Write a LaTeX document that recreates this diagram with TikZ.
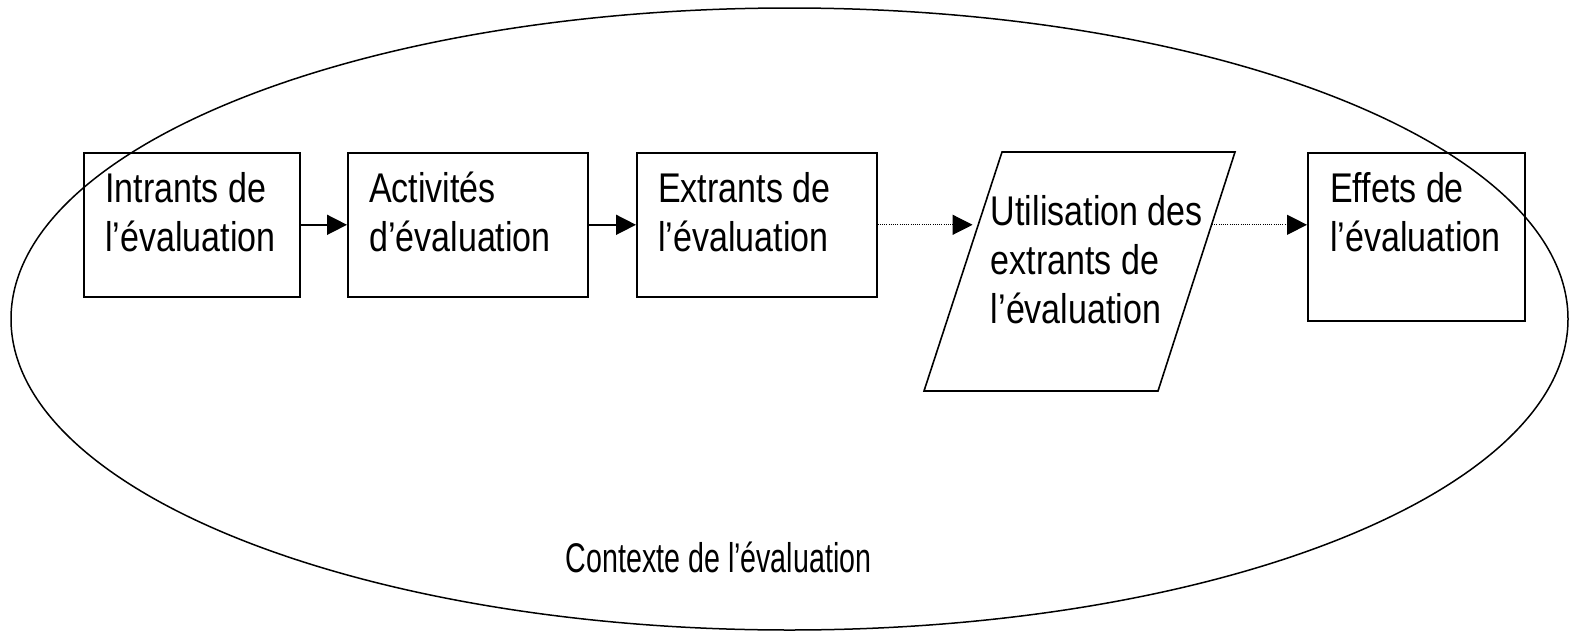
\documentclass[tikz,border=0pt]{standalone}
\usepackage{fontspec}
\setmainfont{Liberation Sans}[FakeStretch=0.82]
\newfontfamily\ctxfont{Liberation Sans}[FakeStretch=0.69]
\usetikzlibrary{arrows.meta,calc}
\begin{document}
\begin{tikzpicture}[x=1pt,y=-1pt,
  box/.style={draw,line width=1.6pt,inner sep=0pt,anchor=north west},
  lbl/.style={inner sep=0pt,anchor=base west,align=left,font=\fontsize{41.5}{49.4}\selectfont},
  tipped/.style={-{Triangle[length=20pt,width=20pt]}},
  solidarrow/.style={tipped,line width=1.6pt},
  dotarrow/.style={tipped,line width=1.2pt,dash pattern=on 1pt off 1.2pt}]
\useasboundingbox (0,0) rectangle (1569,632);
% context ellipse
\draw[line width=1.5pt] (789.5,319) ellipse [x radius=778.5pt, y radius=311pt];
% boxes
\node[box,minimum width=216pt,minimum height=144pt] (b1) at (83,152) {};
\node[box,minimum width=240pt,minimum height=144pt] (b2) at (347,152) {};
\node[box,minimum width=240pt,minimum height=144pt] (b3) at (636,152) {};
\node[box,minimum width=217pt,minimum height=168pt] (b5) at (1307,152) {};
% parallelogram
\coordinate (p1) at (1002,152);
\coordinate (p2) at (1235,152);
\coordinate (p3) at (1158,391);
\coordinate (p4) at (924,391);
\draw[line width=1.6pt,line join=miter] (p1) -- (p2) -- (p3) -- (p4) -- cycle;
\coordinate (pin) at ($(p1)!0.3!(p4)$);
\coordinate (pout) at ($(p2)!0.3!(p3)$);
% labels (anchor = baseline of the last line)
\node[lbl] (t1) at ($(b1.north west)+(22,99.4)$) {Intrants de\\l’évaluation};
\node[lbl] (t2) at ($(b2.north west)+(22,99.4)$) {Activités\\d’évaluation};
\node[lbl] (t3) at ($(b3.north west)+(22,99.4)$) {Extrants de\\l’évaluation};
\node[lbl] (t4) at (990.7,323.8) {Utilisation des\\extrants de\\l’évaluation};
\node[lbl] (t5) at ($(b5.north west)+(23,99.4)$) {Effets de\\l’évaluation};
\node[lbl,anchor=base,font=\ctxfont\fontsize{41.5}{49.4}\selectfont] (ctx) at (718.5,572) {Contexte de l’évaluation};
% connectors
\draw[solidarrow] (b1.east) -- (b2.west);
\draw[solidarrow] (b2.east) -- (b3.west);
\draw[dotarrow,shorten >=6pt] (b3.east) -- (b3.east -| pin);
\draw[dotarrow] (b3.east -| pout) -- (b5.west |- b3.east);
\end{tikzpicture}
\end{document}
